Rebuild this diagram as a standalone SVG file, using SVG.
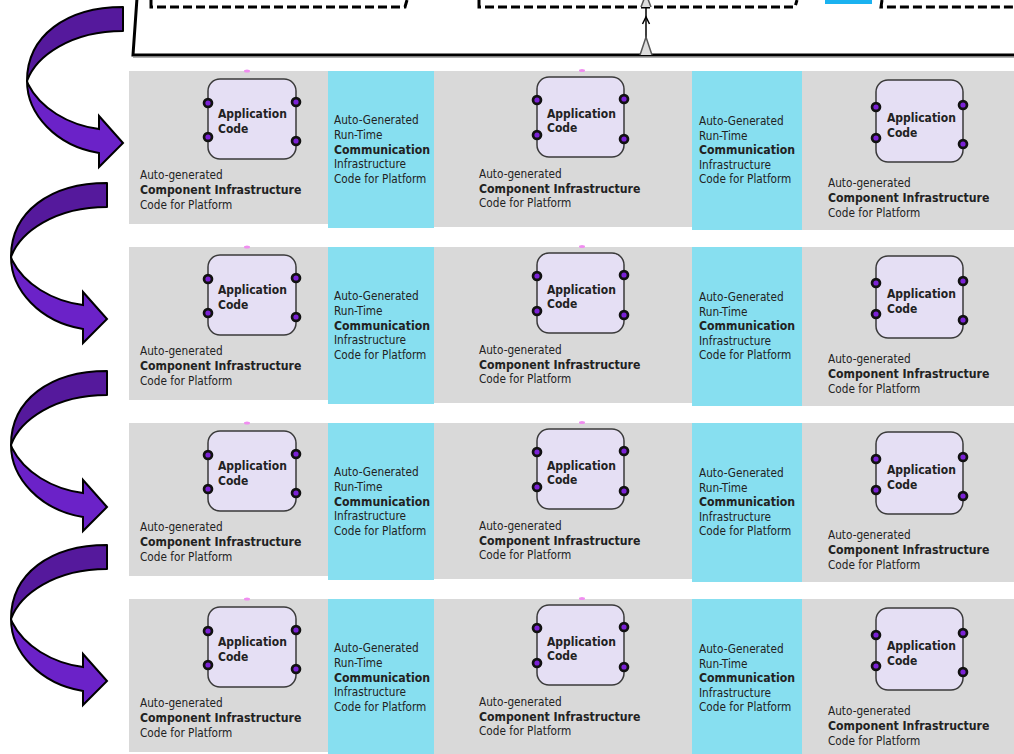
<svg xmlns="http://www.w3.org/2000/svg" xmlns:xlink="http://www.w3.org/1999/xlink" width="1014" height="754" viewBox="0 0 1014 754">
  <style>
    .gray{fill:#d9d9d9}
    .cyan{fill:#87dff0}
    .app{fill:#e5dff4;stroke:#3a3a3a;stroke-width:1.5}
    .pink{fill:#f08ef0}
    text{font-family:"DejaVu Sans Condensed","DejaVu Sans",sans-serif;font-stretch:condensed;font-size:11.7px;fill:#222}
    .b{font-weight:bold;font-size:12.2px}
    .ab{font-weight:bold;font-size:12px}
    .dash{fill:none;stroke:#000;stroke-width:3;stroke-dasharray:9 4}
    .top{fill:#55199c;stroke:#000;stroke-width:2;stroke-linejoin:round}
    .bot{fill:#6b22c8;stroke:#000;stroke-width:2;stroke-linejoin:miter}
  </style>
  <defs>
    <g id="port"><circle r="5.3" fill="#111"/><circle r="2.6" fill="#7b22d6"/></g>
    <g id="twist">
      <path class="top" d="M107,183 C50,183 11,212 11,257 C20,232 55,207 107,207 Z"/>
      <path class="bot" d="M11,257 C11,290 40,322 83,329 L83,343 L107,319 L83,292 L83,305 C52,301 24,284 12,260 Z"/>
    </g>
  </defs>

  <rect width="1014" height="754" fill="#fff"/>

  <!-- upper platform frame -->
  <g id="platform-frame">
    <path d="M137,-2 L133,55 L1016,55" fill="#fff" stroke="#000" stroke-width="3"/>
    <line x1="133" y1="57.5" x2="1014" y2="57.5" stroke="#b0b0b0" stroke-width="1"/>
    <path class="dash" d="M151,0 L151,7 L405,7 L407,0"/>
    <path class="dash" d="M479,0 L479,7 L795,7 L797,0"/>
    <path class="dash" d="M882,0 L881,7 L1016,7"/>
    <rect x="825" y="0" width="47" height="4" fill="#1ab2f0"/>
  </g>

  <!-- connectors -->
  <g id="connectors">
    <line x1="646" y1="55" x2="646" y2="0" stroke="#000" stroke-width="1.5"/>
    <path d="M640,55 L646,37 L652,55" fill="#ddd" stroke="#555" stroke-width="1.5"/>
    <path d="M642.5,24 L646,17 L649.5,24" fill="none" stroke="#000" stroke-width="1.5"/>
    <path d="M641,7 L646,-6 L651,7" fill="#ddd" stroke="#555" stroke-width="1.5"/>
    <use xlink:href="#twist" transform="translate(16,-176)"/>
    <use xlink:href="#twist"/>
    <use xlink:href="#twist" transform="translate(0,188)"/>
    <use xlink:href="#twist" transform="translate(0,362)"/>
  </g>

  <!-- row 1 -->
  <g id="row1">
    <rect class="gray" x="129" y="71" width="199" height="153"/>
    <rect class="gray" x="434" y="71" width="258" height="156"/>
    <rect class="gray" x="802" y="71" width="212" height="159"/>
    <g id="r1-comm1">
      <rect class="cyan" x="328" y="71" width="106" height="157"/>
      <text x="334" y="124">Auto-Generated</text><text x="334" y="139">Run-Time</text><text class="b" x="334" y="153.5">Communication</text><text x="334" y="168">Infrastructure</text><text x="334" y="182.5">Code for Platform</text>
    </g>
    <g id="r1-comm2">
      <rect class="cyan" x="692" y="71" width="110" height="159"/>
      <text x="699" y="125">Auto-Generated</text><text x="699" y="139.5">Run-Time</text><text class="b" x="699" y="154">Communication</text><text x="699" y="168.5">Infrastructure</text><text x="699" y="183">Code for Platform</text>
    </g>
    <g id="r1-comp1">
      <ellipse class="pink" cx="247" cy="71" rx="3" ry="1.5"/>
      <rect class="app" x="208" y="79" width="88" height="80" rx="12"/>
      <use xlink:href="#port" x="208" y="103"/><use xlink:href="#port" x="208" y="137"/><use xlink:href="#port" x="296" y="102"/><use xlink:href="#port" x="296" y="141"/>
      <text class="ab" x="218" y="118">Application</text><text class="ab" x="218" y="133">Code</text>
      <text x="140" y="179">Auto-generated</text><text class="b" x="140" y="194">Component Infrastructure</text><text x="140" y="209">Code for Platform</text>
    </g>
    <g id="r1-comp2">
      <ellipse class="pink" cx="582" cy="70.5" rx="3" ry="1.5"/>
      <rect class="app" x="537" y="77" width="87" height="80" rx="12"/>
      <use xlink:href="#port" x="537" y="100"/><use xlink:href="#port" x="537" y="135"/><use xlink:href="#port" x="624" y="99"/><use xlink:href="#port" x="624" y="139"/>
      <text class="ab" x="547" y="118">Application</text><text class="ab" x="547" y="132">Code</text>
      <text x="479" y="178">Auto-generated</text><text class="b" x="479" y="193">Component Infrastructure</text><text x="479" y="207">Code for Platform</text>
    </g>
    <g id="r1-comp3">
      <rect class="app" x="876" y="80" width="87" height="82" rx="12"/>
      <use xlink:href="#port" x="876" y="107"/><use xlink:href="#port" x="876" y="138"/><use xlink:href="#port" x="963" y="105"/><use xlink:href="#port" x="963" y="144"/>
      <text class="ab" x="887" y="122">Application</text><text class="ab" x="887" y="137">Code</text>
      <text x="828" y="187">Auto-generated</text><text class="b" x="828" y="202">Component Infrastructure</text><text x="828" y="216.5">Code for Platform</text>
    </g>
  </g>

  <!-- row 2 -->
  <g id="row2" transform="translate(0,176)">
    <rect class="gray" x="129" y="71" width="199" height="153"/>
    <rect class="gray" x="434" y="71" width="258" height="156"/>
    <rect class="gray" x="802" y="71" width="212" height="159"/>
    <g id="r2-comm1">
      <rect class="cyan" x="328" y="71" width="106" height="157"/>
      <text x="334" y="124">Auto-Generated</text><text x="334" y="139">Run-Time</text><text class="b" x="334" y="153.5">Communication</text><text x="334" y="168">Infrastructure</text><text x="334" y="182.5">Code for Platform</text>
    </g>
    <g id="r2-comm2">
      <rect class="cyan" x="692" y="71" width="110" height="159"/>
      <text x="699" y="125">Auto-Generated</text><text x="699" y="139.5">Run-Time</text><text class="b" x="699" y="154">Communication</text><text x="699" y="168.5">Infrastructure</text><text x="699" y="183">Code for Platform</text>
    </g>
    <g id="r2-comp1">
      <ellipse class="pink" cx="247" cy="71" rx="3" ry="1.5"/>
      <rect class="app" x="208" y="79" width="88" height="80" rx="12"/>
      <use xlink:href="#port" x="208" y="103"/><use xlink:href="#port" x="208" y="137"/><use xlink:href="#port" x="296" y="102"/><use xlink:href="#port" x="296" y="141"/>
      <text class="ab" x="218" y="118">Application</text><text class="ab" x="218" y="133">Code</text>
      <text x="140" y="179">Auto-generated</text><text class="b" x="140" y="194">Component Infrastructure</text><text x="140" y="209">Code for Platform</text>
    </g>
    <g id="r2-comp2">
      <ellipse class="pink" cx="582" cy="70.5" rx="3" ry="1.5"/>
      <rect class="app" x="537" y="77" width="87" height="80" rx="12"/>
      <use xlink:href="#port" x="537" y="100"/><use xlink:href="#port" x="537" y="135"/><use xlink:href="#port" x="624" y="99"/><use xlink:href="#port" x="624" y="139"/>
      <text class="ab" x="547" y="118">Application</text><text class="ab" x="547" y="132">Code</text>
      <text x="479" y="178">Auto-generated</text><text class="b" x="479" y="193">Component Infrastructure</text><text x="479" y="207">Code for Platform</text>
    </g>
    <g id="r2-comp3">
      <rect class="app" x="876" y="80" width="87" height="82" rx="12"/>
      <use xlink:href="#port" x="876" y="107"/><use xlink:href="#port" x="876" y="138"/><use xlink:href="#port" x="963" y="105"/><use xlink:href="#port" x="963" y="144"/>
      <text class="ab" x="887" y="122">Application</text><text class="ab" x="887" y="137">Code</text>
      <text x="828" y="187">Auto-generated</text><text class="b" x="828" y="202">Component Infrastructure</text><text x="828" y="216.5">Code for Platform</text>
    </g>
  </g>

  <!-- row 3 -->
  <g id="row3" transform="translate(0,352)">
    <rect class="gray" x="129" y="71" width="199" height="153"/>
    <rect class="gray" x="434" y="71" width="258" height="156"/>
    <rect class="gray" x="802" y="71" width="212" height="159"/>
    <g id="r3-comm1">
      <rect class="cyan" x="328" y="71" width="106" height="157"/>
      <text x="334" y="124">Auto-Generated</text><text x="334" y="139">Run-Time</text><text class="b" x="334" y="153.5">Communication</text><text x="334" y="168">Infrastructure</text><text x="334" y="182.5">Code for Platform</text>
    </g>
    <g id="r3-comm2">
      <rect class="cyan" x="692" y="71" width="110" height="159"/>
      <text x="699" y="125">Auto-Generated</text><text x="699" y="139.5">Run-Time</text><text class="b" x="699" y="154">Communication</text><text x="699" y="168.5">Infrastructure</text><text x="699" y="183">Code for Platform</text>
    </g>
    <g id="r3-comp1">
      <ellipse class="pink" cx="247" cy="71" rx="3" ry="1.5"/>
      <rect class="app" x="208" y="79" width="88" height="80" rx="12"/>
      <use xlink:href="#port" x="208" y="103"/><use xlink:href="#port" x="208" y="137"/><use xlink:href="#port" x="296" y="102"/><use xlink:href="#port" x="296" y="141"/>
      <text class="ab" x="218" y="118">Application</text><text class="ab" x="218" y="133">Code</text>
      <text x="140" y="179">Auto-generated</text><text class="b" x="140" y="194">Component Infrastructure</text><text x="140" y="209">Code for Platform</text>
    </g>
    <g id="r3-comp2">
      <ellipse class="pink" cx="582" cy="70.5" rx="3" ry="1.5"/>
      <rect class="app" x="537" y="77" width="87" height="80" rx="12"/>
      <use xlink:href="#port" x="537" y="100"/><use xlink:href="#port" x="537" y="135"/><use xlink:href="#port" x="624" y="99"/><use xlink:href="#port" x="624" y="139"/>
      <text class="ab" x="547" y="118">Application</text><text class="ab" x="547" y="132">Code</text>
      <text x="479" y="178">Auto-generated</text><text class="b" x="479" y="193">Component Infrastructure</text><text x="479" y="207">Code for Platform</text>
    </g>
    <g id="r3-comp3">
      <rect class="app" x="876" y="80" width="87" height="82" rx="12"/>
      <use xlink:href="#port" x="876" y="107"/><use xlink:href="#port" x="876" y="138"/><use xlink:href="#port" x="963" y="105"/><use xlink:href="#port" x="963" y="144"/>
      <text class="ab" x="887" y="122">Application</text><text class="ab" x="887" y="137">Code</text>
      <text x="828" y="187">Auto-generated</text><text class="b" x="828" y="202">Component Infrastructure</text><text x="828" y="216.5">Code for Platform</text>
    </g>
  </g>

  <!-- row 4 -->
  <g id="row4" transform="translate(0,528)">
    <rect class="gray" x="129" y="71" width="199" height="153"/>
    <rect class="gray" x="434" y="71" width="258" height="156"/>
    <rect class="gray" x="802" y="71" width="212" height="159"/>
    <g id="r4-comm1">
      <rect class="cyan" x="328" y="71" width="106" height="157"/>
      <text x="334" y="124">Auto-Generated</text><text x="334" y="139">Run-Time</text><text class="b" x="334" y="153.5">Communication</text><text x="334" y="168">Infrastructure</text><text x="334" y="182.5">Code for Platform</text>
    </g>
    <g id="r4-comm2">
      <rect class="cyan" x="692" y="71" width="110" height="159"/>
      <text x="699" y="125">Auto-Generated</text><text x="699" y="139.5">Run-Time</text><text class="b" x="699" y="154">Communication</text><text x="699" y="168.5">Infrastructure</text><text x="699" y="183">Code for Platform</text>
    </g>
    <g id="r4-comp1">
      <ellipse class="pink" cx="247" cy="71" rx="3" ry="1.5"/>
      <rect class="app" x="208" y="79" width="88" height="80" rx="12"/>
      <use xlink:href="#port" x="208" y="103"/><use xlink:href="#port" x="208" y="137"/><use xlink:href="#port" x="296" y="102"/><use xlink:href="#port" x="296" y="141"/>
      <text class="ab" x="218" y="118">Application</text><text class="ab" x="218" y="133">Code</text>
      <text x="140" y="179">Auto-generated</text><text class="b" x="140" y="194">Component Infrastructure</text><text x="140" y="209">Code for Platform</text>
    </g>
    <g id="r4-comp2">
      <ellipse class="pink" cx="582" cy="70.5" rx="3" ry="1.5"/>
      <rect class="app" x="537" y="77" width="87" height="80" rx="12"/>
      <use xlink:href="#port" x="537" y="100"/><use xlink:href="#port" x="537" y="135"/><use xlink:href="#port" x="624" y="99"/><use xlink:href="#port" x="624" y="139"/>
      <text class="ab" x="547" y="118">Application</text><text class="ab" x="547" y="132">Code</text>
      <text x="479" y="178">Auto-generated</text><text class="b" x="479" y="193">Component Infrastructure</text><text x="479" y="207">Code for Platform</text>
    </g>
    <g id="r4-comp3">
      <rect class="app" x="876" y="80" width="87" height="82" rx="12"/>
      <use xlink:href="#port" x="876" y="107"/><use xlink:href="#port" x="876" y="138"/><use xlink:href="#port" x="963" y="105"/><use xlink:href="#port" x="963" y="144"/>
      <text class="ab" x="887" y="122">Application</text><text class="ab" x="887" y="137">Code</text>
      <text x="828" y="187">Auto-generated</text><text class="b" x="828" y="202">Component Infrastructure</text><text x="828" y="216.5">Code for Platform</text>
    </g>
  </g>
</svg>
